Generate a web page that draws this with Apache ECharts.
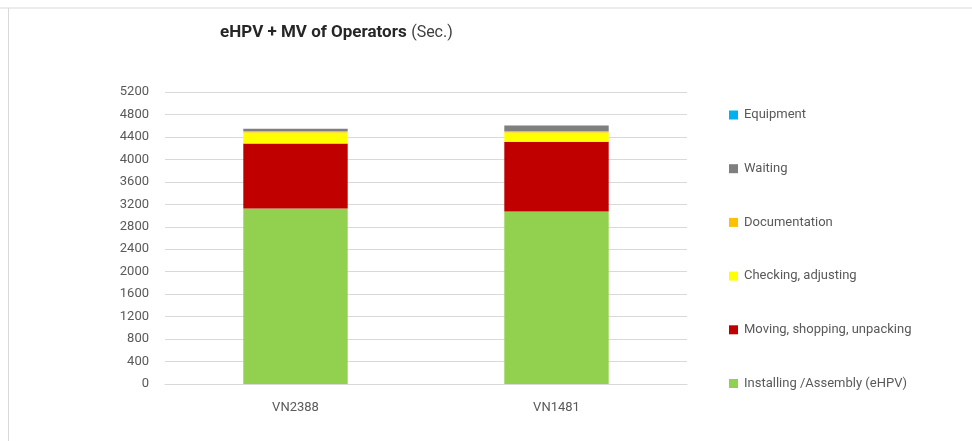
<!DOCTYPE html>
<html>
<head>
<meta charset="utf-8">
<script src="https://cdn.jsdelivr.net/npm/echarts@6/dist/echarts.min.js"></script>
<style>
  html, body { margin: 0; padding: 0; background: #fff; }
  #main { width: 972px; height: 441px; }
</style>
</head>
<body>
<div id="main"></div>
<script>
// categories and stacked values (seconds)
var categories = ['VN2388', 'VN1481'];
var installing = [3125, 3071];
var moving = [1158, 1243];
var checking = [195, 166];
var documentation = [25, 23];
var waiting = [42, 101];
var equipment = [0, 0];
var yTicks = { min: 0, max: 5200, interval: 400 };

var seriesNames = ['Installing /Assembly (eHPV)', 'Moving, shopping, unpacking', 'Checking, adjusting', 'Documentation', 'Waiting', 'Equipment'];
var seriesData = [installing, moving, checking, documentation, waiting, equipment];
var seriesColors = ['#92d050', '#c00000', '#ffff00', '#ffc000', '#7f7f7f', '#00b0f0'];

var chart = echarts.init(document.getElementById('main'));

var series = [];
for (var i = 0; i < seriesNames.length; i++) {
  series.push({
    name: seriesNames[i],
    type: 'bar',
    stack: 'total',
    barWidth: '40%',
    itemStyle: { color: seriesColors[i] },
    data: seriesData[i]
  });
}

var option = {
  animation: false,
  backgroundColor: '#fff',
  textStyle: { fontFamily: 'Roboto, "Noto Sans", sans-serif' },
  title: {
    text: '{b|eHPV + MV of Operators} {n|(Sec.)}',
    left: 215,
    top: 19,
    textStyle: {
      rich: {
        b: { fontSize: 17, fontWeight: 'bold', color: '#262626', fontFamily: 'Roboto, sans-serif' },
        n: { fontSize: 16, fontWeight: 'normal', color: '#404040', fontFamily: 'Roboto, sans-serif' }
      }
    }
  },
  legend: {
    orient: 'vertical',
    left: 724,
    top: 103,
    itemWidth: 9,
    itemHeight: 9,
    itemGap: 39.7,
    icon: 'rect',
    data: seriesNames.slice().reverse(),
    textStyle: { fontSize: 13, color: '#595959', lineHeight: 14, padding: [0, 0, 0, 1] }
  },
  grid: {
    left: 165,
    right: 285,
    top: 92,
    bottom: 57
  },
  xAxis: {
    type: 'category',
    data: categories,
    axisLine: { lineStyle: { color: '#d9d9d9' } },
    axisTick: { show: false },
    axisLabel: { fontSize: 13, color: '#595959', margin: 17 }
  },
  yAxis: {
    type: 'value',
    min: yTicks.min,
    max: yTicks.max,
    interval: yTicks.interval,
    axisLine: { show: false },
    axisTick: { show: false },
    axisLabel: { fontSize: 13, color: '#595959', margin: 16, formatter: function (v) { return String(v); } },
    splitLine: { lineStyle: { color: '#d9d9d9' } }
  },
  graphic: [
    { type: 'line', shape: { x1: 0, y1: 8, x2: 972, y2: 8 }, style: { stroke: '#d9d9d9', lineWidth: 1 } },
    { type: 'line', shape: { x1: 8.5, y1: 8, x2: 8.5, y2: 441 }, style: { stroke: '#d9d9d9', lineWidth: 1 } }
  ],
  series: series
};

chart.setOption(option);
window.onresize = function () { chart.resize(); };
</script>
</body>
</html>
